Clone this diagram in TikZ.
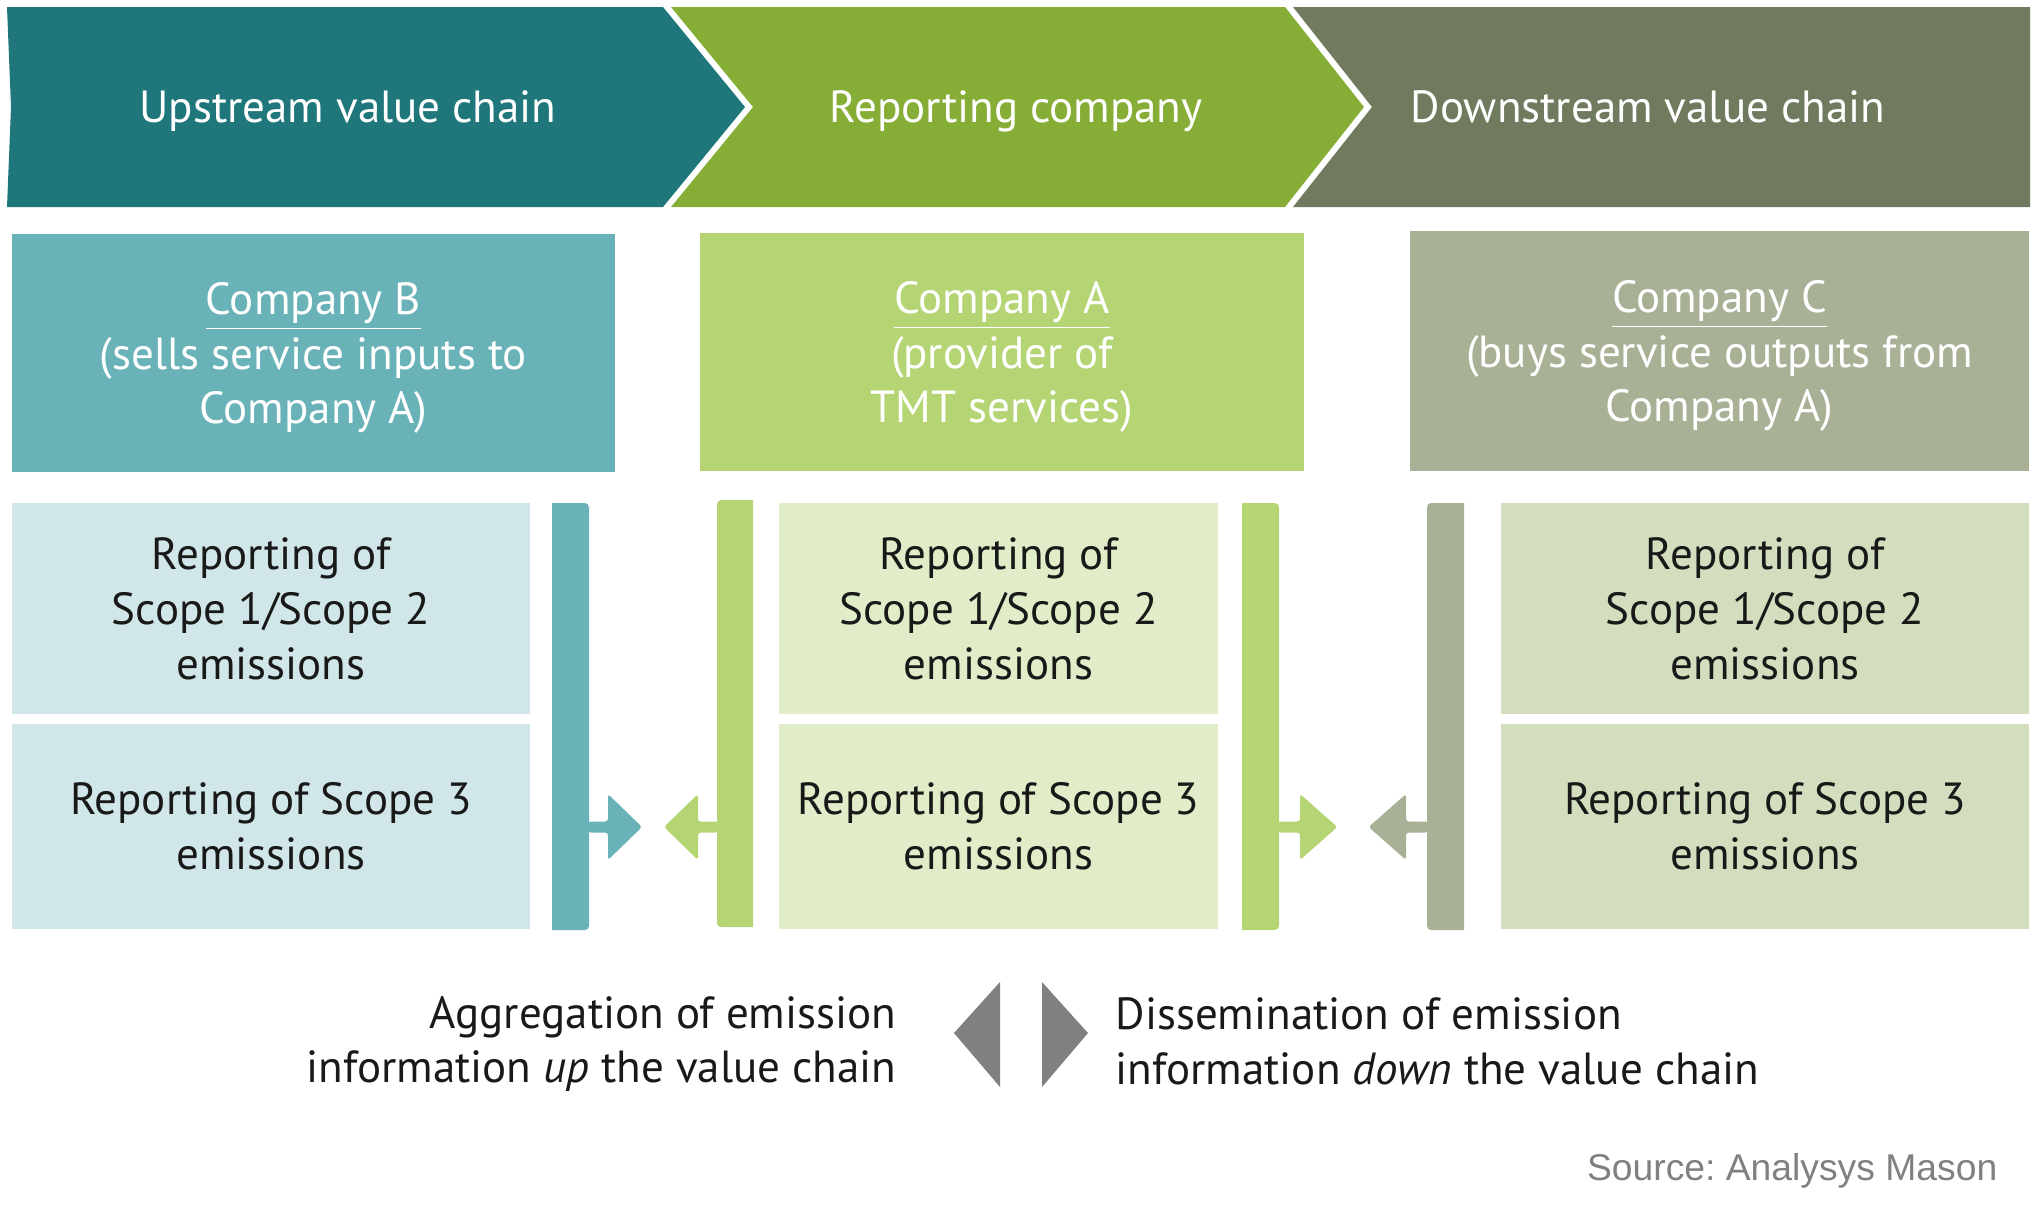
\documentclass[tikz,border=0pt]{standalone}
\usepackage{fontspec}
\setmainfont{PT Sans}
\newfontfamily\sourcefont{Liberation Sans}
\usetikzlibrary{positioning, calc}
\definecolor{upteal}{RGB}{31, 119, 123}
\definecolor{repgreen}{RGB}{134, 174, 54}
\definecolor{downolive}{RGB}{112, 122, 94}
\definecolor{tealmid}{RGB}{104, 178, 184}
\definecolor{greenmid}{RGB}{181, 213, 116}
\definecolor{olivemid}{RGB}{168, 177, 150}
\definecolor{teallight}{RGB}{208, 230, 232}
\definecolor{greenlight}{RGB}{225, 237, 200}
\definecolor{olivelight}{RGB}{210, 222, 189}
\definecolor{pointgray}{RGB}{128, 128, 128}
\tikzset{
    bodyfont/.style={font=\fontsize{12.8}{15.6}\selectfont},
    chevtext/.style={bodyfont, text=white, anchor=base},
    companybox/.style={rectangle, inner sep=0pt, align=center, bodyfont, text=white},
    scopebox/.style={rectangle, inner sep=0pt, align=center, bodyfont, text=black!90},
    flowtext/.style={bodyfont, text=black!90, inner sep=0pt},
    pointer/.style={fill=pointgray},
    sidearrow/.pic={
        \fill[rounded corners=0.8pt] (0,-5.5) -- (20,-5.5) -- (20,-33) -- (54,0) -- (20,33) -- (20,5.5) -- (0,5.5) -- cycle;
    },
}
\begin{document}
\begin{tikzpicture}[x=0.01cm, y=-0.01cm]
    \useasboundingbox (0,0) rectangle (2038,1217);
    % value chain chevrons
    \fill[upteal] (7,7) -- (663,7) -- (745,107) -- (663,207) -- (7,207) -- (11,107) -- cycle;
    \fill[repgreen] (671,7) -- (1285,7) -- (1364,107) -- (1285,207) -- (671,207) -- (753,107) -- cycle;
    \fill[downolive] (1293,7) -- (2030,7) -- (2030,207) -- (1293,207) -- (1372,107) -- cycle;
    \node[chevtext] (upstream) at (348,122) {Upstream value chain};
    \node[chevtext] (reporting) at (1016,122) {Reporting company};
    \node[chevtext] (downstream) at (1648,122) {Downstream value chain};

    % companies
    \node[companybox, fill=tealmid, minimum width=6.03cm, minimum height=2.38cm] (compB) at (313.5,353) {};
    \node[companybox, fill=greenmid, minimum width=6.04cm, minimum height=2.38cm] (compA) at (1002,352) {};
    \node[companybox, fill=olivemid, minimum width=6.19cm, minimum height=2.40cm] (compC) at (1719.5,351) {};
    \node[companybox] (compBtext) at (313.5,358)
          {\underline{Company B}\\(sells service inputs to\\Company A)};
    \node[companybox] (compAtext) at (1002,357)
          {\underline{Company A}\\(provider of\\TMT services)};
    \node[companybox] (compCtext) at (1719.5,356)
          {\underline{Company C}\\(buys service outputs from\\Company A)};

    % scope reporting
    \node[scopebox, fill=teallight, minimum width=5.18cm, minimum height=2.11cm] (scopeB12) at (271,608.5)
          {Reporting of\\Scope 1/Scope 2\\emissions};
    \node[scopebox, fill=teallight, minimum width=5.18cm, minimum height=2.05cm] (scopeB3) at (271,826.5)
          {Reporting of Scope 3\\emissions};
    \node[scopebox, fill=greenlight, minimum width=4.39cm, minimum height=2.11cm] (scopeA12) at (998.5,608.5)
          {Reporting of\\Scope 1/Scope 2\\emissions};
    \node[scopebox, fill=greenlight, minimum width=4.39cm, minimum height=2.05cm] (scopeA3) at (998.5,826.5)
          {Reporting of Scope 3\\emissions};
    \node[scopebox, fill=olivelight, minimum width=5.28cm, minimum height=2.11cm] (scopeC12) at (1765,608.5)
          {Reporting of\\Scope 1/Scope 2\\emissions};
    \node[scopebox, fill=olivelight, minimum width=5.28cm, minimum height=2.05cm] (scopeC3) at (1765,826.5)
          {Reporting of Scope 3\\emissions};

    % brackets
    \fill[tealmid] (552,503) [rounded corners=1.2pt] -- (589,503) -- (589,930) [sharp corners] -- (552,930) -- cycle;
    \fill[greenmid] (753,500) [rounded corners=1.2pt] -- (717,500) -- (717,927) [sharp corners] -- (753,927) -- cycle;
    \fill[greenmid] (1242,503) [rounded corners=1.2pt] -- (1279,503) -- (1279,930) [sharp corners] -- (1242,930) -- cycle;
    \fill[olivemid] (1464,503) [rounded corners=1.2pt] -- (1427,503) -- (1427,930) [sharp corners] -- (1464,930) -- cycle;
    \coordinate (tealout) at (588,827);
    \coordinate (greenin) at (718,827);
    \coordinate (greenout) at (1278,827);
    \coordinate (olivein) at (1428,827);
    \pic[tealmid] at (tealout) {sidearrow};
    \pic[greenmid, xscale=-1] at (greenin) {sidearrow};
    \pic[greenmid, xscale=1.1] at (greenout) {sidearrow};
    \pic[olivemid, xscale=-1.1] at (olivein) {sidearrow};

    % legend
    \fill[pointer] (954,1033) -- (1000,982) -- (1000,1087) -- cycle;
    \fill[pointer] (1042,982) -- (1088,1033) -- (1042,1087) -- cycle;
    \node[flowtext, anchor=east, align=right] (aggregation) at (897,1044)
          {Aggregation of emission\\information \emph{up} the value chain};
    \node[flowtext, anchor=west, align=left] (dissemination) at (1115,1041)
          {Dissemination of emission\\information \emph{down} the value chain};
    \node[anchor=east, inner sep=0pt, font=\sourcefont\fontsize{10.6}{12}\selectfont, text=pointgray] (source) at (1998,1171)
          {Source:\ Analysys Mason};
\end{tikzpicture}
\end{document}
